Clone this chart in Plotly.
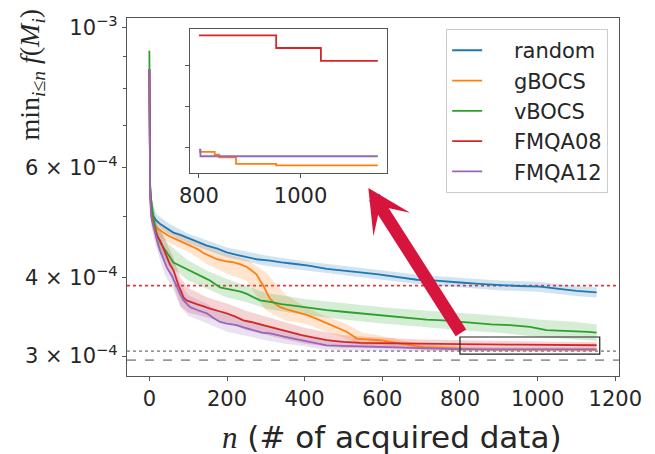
import math
import plotly.graph_objects as go

SCALE = 1e-4  # values below are stored in units of 1e-4

# ---------------- mean curves (min f found so far) ----------------
random_n = [0, 1, 2, 4, 6, 10, 16, 28, 45, 62, 80, 105, 130, 148, 175, 199, 225, 251, 276, 311, 340,
            371, 410, 457, 500, 543, 590, 629, 660, 689, 730, 766, 800, 850, 903, 950, 1006, 1050, 1100, 1152]
random_v = [8.6, 6.2, 5.6, 5.3, 5.12, 5.02, 4.95, 4.87, 4.79, 4.72, 4.68, 4.61, 4.55, 4.50, 4.45, 4.39, 4.35,
            4.31, 4.28, 4.26, 4.23, 4.21, 4.18, 4.13, 4.11, 4.08, 4.05, 4.02, 4.00, 3.97, 3.96, 3.95, 3.93,
            3.91, 3.89, 3.88, 3.87, 3.84, 3.81, 3.79]

gbocs_n = [0, 1, 2, 4, 6, 10, 20, 36, 50, 71, 90, 113, 125, 139, 155, 174, 195, 217, 235, 251, 265, 276,
           285, 294, 303, 311, 325, 337, 360, 380, 405, 431, 450, 465, 490, 508, 522, 534, 560, 594, 620,
           646, 680, 706, 740, 766, 790, 800, 831, 840, 873, 952, 1152]
gbocs_v = [8.6, 6.2, 5.55, 5.2, 5.0, 4.88, 4.80, 4.72, 4.66, 4.60, 4.54, 4.48, 4.44, 4.38, 4.33, 4.28,
           4.25, 4.23, 4.20, 4.16, 4.10, 4.05, 3.96, 3.88, 3.78, 3.70, 3.63, 3.59, 3.55, 3.52, 3.49, 3.44,
           3.40, 3.36, 3.31, 3.28, 3.24, 3.20, 3.19, 3.18, 3.16, 3.14, 3.12, 3.10, 3.095, 3.09, 3.083,
           3.0781, 3.0768, 3.0755, 3.0723, 3.0716, 3.0716]

vbocs_n = [0, 1, 2, 4, 6, 10, 14, 19, 28, 36, 45, 53, 62, 75, 88, 110, 131, 145, 156, 170, 182, 200, 217,
           235, 251, 268, 285, 311, 340, 371, 410, 457, 500, 543, 590, 629, 670, 714, 757, 800, 826, 880,
           929, 980, 1023, 1060, 1101, 1130, 1152]
vbocs_v = [9.2, 6.5, 5.6, 5.35, 5.27, 5.0, 4.85, 4.69, 4.55, 4.47, 4.39, 4.30, 4.23, 4.19, 4.15, 4.09,
           4.03, 3.99, 3.96, 3.91, 3.86, 3.84, 3.82, 3.80, 3.77, 3.72, 3.68, 3.66, 3.63, 3.61, 3.58, 3.55,
           3.53, 3.51, 3.49, 3.47, 3.45, 3.43, 3.42, 3.40, 3.39, 3.37, 3.36, 3.34, 3.30, 3.295, 3.29, 3.28,
           3.27]

fmqa08_n = [0, 1, 2, 4, 6, 10, 15, 20, 28, 36, 45, 53, 62, 68, 75, 82, 88, 96, 110, 122, 140, 156, 178,
            199, 220, 242, 262, 285, 311, 328, 350, 371, 392, 414, 435, 457, 480, 500, 543, 600, 660, 720,
            783, 800, 952, 1040, 1152]
fmqa08_v = [8.6, 6.0, 5.5, 5.15, 4.98, 4.87, 4.75, 4.66, 4.58, 4.45, 4.31, 4.20, 4.11, 4.00, 3.89, 3.80,
            3.72, 3.68, 3.65, 3.63, 3.60, 3.57, 3.54, 3.51, 3.47, 3.42, 3.40, 3.37, 3.34, 3.32, 3.29, 3.26,
            3.24, 3.22, 3.20, 3.18, 3.17, 3.16, 3.15, 3.145, 3.14, 3.138, 3.136, 3.1344, 3.1283, 3.1221,
            3.1221]

fmqa12_n = [0, 1, 2, 4, 6, 10, 15, 20, 28, 36, 45, 58, 64, 71, 80, 88, 96, 105, 125, 148, 165, 182, 200,
            225, 245, 268, 290, 311, 328, 350, 371, 392, 414, 435, 457, 500, 543, 600, 629, 680, 714, 760,
            800, 803, 1152]
fmqa12_v = [8.6, 5.9, 5.45, 5.1, 4.95, 4.85, 4.69, 4.58, 4.41, 4.27, 4.15, 4.03, 3.95, 3.86, 3.76, 3.68,
            3.63, 3.59, 3.55, 3.51, 3.45, 3.40, 3.38, 3.36, 3.33, 3.30, 3.27, 3.26, 3.24, 3.22, 3.20, 3.18,
            3.16, 3.14, 3.12, 3.115, 3.11, 3.105, 3.10, 3.095, 3.09, 3.087, 3.0792, 3.0760, 3.0760]

# ---------------- shaded spread bands ----------------
random_band_n = [0, 2, 6, 20, 50, 100, 200, 300, 400, 500, 600, 700, 800, 900, 1000, 1100, 1152]
random_hi = [9.7, 5.8, 5.25, 5.04, 4.88, 4.70, 4.47, 4.34, 4.25, 4.18, 4.11, 4.04, 4.00, 3.96, 3.94, 3.88, 3.86]
random_lo = [7.6, 5.45, 5.0, 4.83, 4.69, 4.54, 4.31, 4.18, 4.11, 4.04, 3.97, 3.90, 3.86, 3.82, 3.80, 3.74, 3.72]

gbocs_band_n = [0, 2, 6, 20, 50, 100, 150, 200, 250, 300, 350, 400, 450, 500, 550, 600, 650, 700, 750,
                800, 900, 1000, 1152]
gbocs_hi = [9.6, 5.75, 5.15, 4.92, 4.78, 4.63, 4.48, 4.36, 4.28, 4.08, 3.76, 3.60, 3.48, 3.39, 3.27, 3.23,
            3.18, 3.14, 3.12, 3.10, 3.095, 3.09, 3.09]
gbocs_lo = [7.7, 5.35, 4.85, 4.68, 4.55, 4.40, 4.20, 4.06, 3.96, 3.55, 3.42, 3.38, 3.29, 3.21, 3.12, 3.12,
            3.09, 3.065, 3.06, 3.055, 3.05, 3.05, 3.05]

vbocs_band_n = [0, 2, 6, 20, 50, 100, 150, 200, 250, 300, 400, 500, 600, 700, 800, 900, 1000, 1100, 1152]
vbocs_hi = [10.0, 5.8, 5.4, 4.85, 4.52, 4.26, 4.10, 3.98, 3.88, 3.78, 3.70, 3.64, 3.59, 3.55, 3.51, 3.48,
            3.43, 3.40, 3.37]
vbocs_lo = [8.4, 5.4, 5.1, 4.5, 4.18, 3.96, 3.84, 3.72, 3.66, 3.57, 3.49, 3.43, 3.38, 3.34, 3.30, 3.27,
            3.22, 3.19, 3.17]

fmqa08_band_n = [0, 2, 6, 20, 40, 60, 80, 100, 150, 200, 250, 300, 350, 400, 450, 500, 600, 700, 800, 900,
                 1000, 1100, 1152]
fmqa08_hi = [9.6, 5.7, 5.15, 4.85, 4.6, 4.33, 4.0, 3.85, 3.72, 3.64, 3.54, 3.47, 3.40, 3.33, 3.28, 3.24,
             3.21, 3.19, 3.18, 3.17, 3.165, 3.16, 3.16]
fmqa08_lo = [7.7, 5.3, 4.82, 4.48, 4.22, 3.94, 3.6, 3.52, 3.45, 3.39, 3.30, 3.24, 3.19, 3.14, 3.11, 3.09,
             3.085, 3.085, 3.085, 3.085, 3.085, 3.085, 3.085]

fmqa12_band_n = [0, 2, 6, 20, 40, 60, 80, 100, 150, 200, 250, 300, 350, 400, 450, 500, 600, 700, 800, 900,
                 1000, 1100, 1152]
fmqa12_hi = [9.5, 5.65, 5.1, 4.75, 4.38, 4.18, 3.93, 3.75, 3.63, 3.49, 3.42, 3.35, 3.30, 3.24, 3.19, 3.17,
             3.15, 3.13, 3.11, 3.10, 3.10, 3.10, 3.10]
fmqa12_lo = [7.8, 5.25, 4.8, 4.42, 4.04, 3.85, 3.6, 3.48, 3.38, 3.28, 3.23, 3.18, 3.14, 3.11, 3.07, 3.065,
             3.06, 3.055, 3.05, 3.05, 3.05, 3.05, 3.05]

# reference levels
ref_red_dotted = 3.886
ref_gray_dotted = 3.055
ref_gray_dashed = 2.956

# zoom box region / inset start
box_n = [800, 1160]
box_v = [3.021, 3.218]
inset_start = 800

labels = ["random", "gBOCS", "vBOCS", "FMQA08", "FMQA12"]
colors = ["#1f77b4", "#ff7f0e", "#2ca02c", "#d62728", "#9467bd"]
fills = ["rgba(31,119,180,0.2)", "rgba(255,127,14,0.2)", "rgba(44,160,44,0.2)",
         "rgba(214,39,40,0.2)", "rgba(148,103,189,0.2)"]

means = [(random_n, random_v), (gbocs_n, gbocs_v), (vbocs_n, vbocs_v),
         (fmqa08_n, fmqa08_v), (fmqa12_n, fmqa12_v)]
bands = [(random_band_n, random_lo, random_hi), (gbocs_band_n, gbocs_lo, gbocs_hi),
         (vbocs_band_n, vbocs_lo, vbocs_hi), (fmqa08_band_n, fmqa08_lo, fmqa08_hi),
         (fmqa12_band_n, fmqa12_lo, fmqa12_hi)]

FONT = "DejaVu Sans"
TXT = "#262626"
PAD = "\u00a0\u00a0\u00a0\u00a0"

fig = go.Figure()

# bands
for (bn, lo, hi), fc in zip(bands, fills):
    fig.add_trace(go.Scatter(
        x=list(bn) + list(bn)[::-1],
        y=[v * SCALE for v in hi] + [v * SCALE for v in lo][::-1],
        fill="toself", fillcolor=fc, line=dict(width=0), mode="lines",
        showlegend=False, hoverinfo="skip", xaxis="x", yaxis="y"))

# mean lines
for (n, v), lab, c in zip(means, labels, colors):
    fig.add_trace(go.Scatter(
        x=n, y=[a * SCALE for a in v], mode="lines", name=PAD + lab,
        line=dict(color=c, width=1.8, shape="linear"), xaxis="x", yaxis="y"))

# inset lines (data from n >= 800)
for idx in [1, 3, 4]:
    n, v = means[idx]
    pts = [(a, b) for a, b in zip(n, v) if a >= inset_start]
    fig.add_trace(go.Scatter(
        x=[p[0] for p in pts], y=[p[1] * SCALE for p in pts], mode="lines", showlegend=False,
        line=dict(color=colors[idx], width=1.8, shape="hv"), xaxis="x2", yaxis="y2"))

axis_common = dict(showline=True, linecolor="#555555", linewidth=1.2, mirror=True,
                   showgrid=False, zeroline=False, ticks="outside", ticklen=4,
                   tickcolor="#555555", tickwidth=1,
                   tickfont=dict(family=FONT, size=21, color=TXT))

fig.update_layout(
    width=655, height=454,
    margin=dict(l=127, r=36, t=16, b=78),
    paper_bgcolor="white", plot_bgcolor="white",
    xaxis=dict(domain=[0, 1], range=[-57.6, 1209.6], tickvals=[0, 200, 400, 600, 800, 1000, 1200],
               **axis_common),
    yaxis=dict(domain=[0, 1], type="log", range=[math.log10(2.789e-4), math.log10(1.037e-3)],
               tickvals=[1e-3, 6e-4, 4e-4, 3e-4],
               ticktext=["10<sup>\u22123</sup>", "6 \u00d7 10<sup>\u22124</sup>",
                         "4 \u00d7 10<sup>\u22124</sup>", "3 \u00d7 10<sup>\u22124</sup>"],
               minor=dict(tickvals=[9e-4, 8e-4, 7e-4, 5e-4], ticks="outside", ticklen=2.5,
                          tickcolor="#555555"),
               **axis_common),
    xaxis2=dict(domain=[0.128, 0.528], anchor="y2", range=[782.4, 1169.6], tickvals=[800, 1000],
                **axis_common),
    yaxis2=dict(domain=[0.5675, 0.970], anchor="x2", range=[3.068e-4, 3.1376e-4],
                tickvals=[3.08e-4, 3.10e-4, 3.12e-4], showticklabels=False,
                **{k: v for k, v in axis_common.items() if k != "tickfont"}),
    legend=dict(x=0.978, y=0.969, xanchor="right", yanchor="top",
                bgcolor="rgba(255,255,255,0.9)", bordercolor="#cccccc", borderwidth=1,
                font=dict(family=FONT, size=21, color=TXT)),
    showlegend=True,
)

# reference lines
fig.add_shape(type="line", xref="x domain", yref="y", x0=0, x1=1,
              y0=ref_red_dotted * SCALE, y1=ref_red_dotted * SCALE,
              line=dict(color="#e8383b", width=1.6, dash="dot"), layer="below")
fig.add_shape(type="line", xref="x domain", yref="y", x0=0, x1=1,
              y0=ref_gray_dotted * SCALE, y1=ref_gray_dotted * SCALE,
              line=dict(color="#999999", width=1.6, dash="dot"), layer="below")
fig.add_shape(type="line", xref="x domain", yref="y", x0=0, x1=1,
              y0=ref_gray_dashed * SCALE, y1=ref_gray_dashed * SCALE,
              line=dict(color="#999999", width=1.8, dash="dash"), layer="below")

# zoom box
fig.add_shape(type="rect", xref="x", yref="y", x0=box_n[0], x1=box_n[1],
              y0=box_v[0] * SCALE, y1=box_v[1] * SCALE,
              line=dict(color="#222222", width=1.2))

# big red arrow pointing to the inset
fig.add_annotation(x=564, y=math.log10(5.56e-4), xref="x", yref="y",
                   ax=805, ay=math.log10(3.25e-4), axref="x", ayref="y",
                   text="", showarrow=True, arrowhead=3, arrowwidth=12.5, arrowsize=0.58,
                   arrowcolor="#d7143c")

# axis titles
fig.add_annotation(x=0.5386, y=-0.170, xref="paper", yref="paper", xanchor="center", yanchor="middle",
                   showarrow=False,
                   text="<span style=\"font-family:'Liberation Serif'\"><i>n</i></span> (# of acquired data)",
                   font=dict(family=FONT, size=31, color=TXT))
fig.add_annotation(x=-0.193, y=0.842, xref="paper", yref="paper", xanchor="center", yanchor="middle",
                   showarrow=False, textangle=-90,
                   text="min<sub><i>i</i>\u2264<i>n</i></sub> <i>f</i>(<i>M<sub>i</sub></i>)",
                   font=dict(family="Liberation Serif", size=28, color=TXT))

fig.write_html("out.html")
